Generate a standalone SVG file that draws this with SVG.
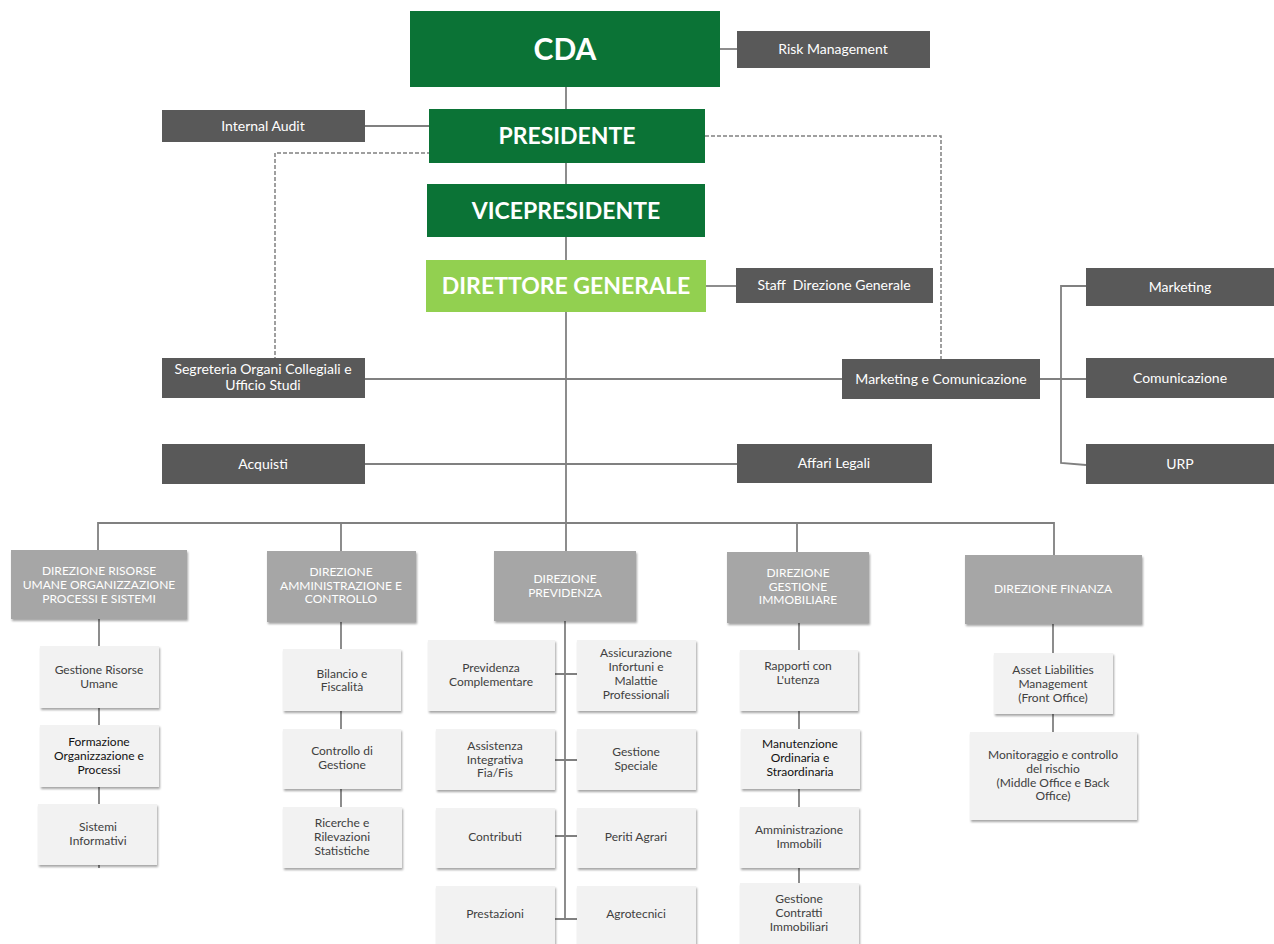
<svg xmlns="http://www.w3.org/2000/svg" width="1274" height="944" viewBox="0 0 1274 944">
<defs>
<filter id="sh" x="-10%" y="-10%" width="130%" height="140%">
<feDropShadow dx="1" dy="2" stdDeviation="1.2" flood-color="#000" flood-opacity="0.35"/>
</filter>
<style>
text{font-family:Lato,"Open Sans","Liberation Sans",sans-serif;text-anchor:middle}
.dg{fill:#0b7336}
.lg{fill:#92d050}
.gr{fill:#595959}
.dir{fill:#a6a6a6;filter:url(#sh)}
.sub{fill:#f2f2f2;filter:url(#sh)}
.tt{fill:#fff;font-weight:bold}
.tg{fill:#fff;font-size:14px}
.td{fill:#fff;font-size:12px}
.ts{fill:#404040;font-size:12px}
.tk{fill:#111;font-size:12px}
.ln{fill:none;stroke:#808080;stroke-width:1.8}
.dash{fill:none;stroke:#808080;stroke-width:1.5;stroke-dasharray:4 2}
</style>
</defs>
<rect width="1274" height="944" fill="#fff"/>
<g id="connectors">
<path class="ln" d="M720 49H737"/>
<path class="ln" d="M566 87V109"/>
<path class="ln" d="M365 126H429"/>
<path class="ln" d="M566 163V184"/>
<path class="ln" d="M566 237V260"/>
<path class="ln" d="M706 286H736"/>
<path class="ln" d="M566 312V551"/>
<path class="ln" d="M365 379H842"/>
<path class="ln" d="M365 464H737"/>
<path class="ln" d="M1040 379H1086"/>
<path class="ln" d="M1086 286H1061V463L1086 465"/>
<path class="ln" d="M98 551V523H1054V555"/>
<path class="ln" d="M341 523V551"/>
<path class="ln" d="M797 523V552"/>
<path class="ln" d="M99 619V868"/>
<path class="ln" d="M341 622V807"/>
<path class="ln" d="M565 621V920"/>
<path class="ln" d="M555 674H577M555 760H577M555 836H577M555 919H577"/>
<path class="ln" d="M799 623V883"/>
<path class="ln" d="M1053 624V732"/>
<path class="dash" d="M443 153H275V358"/>
<path class="dash" d="M705 136H941V359"/>
</g>
<g id="cda"><rect class="dg" x="410" y="11" width="310" height="76"/><text class="tt" x="565" y="60" font-size="30">CDA</text></g>
<g id="risk"><rect class="gr" x="737" y="31" width="193" height="37"/><text class="tg" x="833" y="54">Risk Management</text></g>
<g id="presidente"><rect class="dg" x="429" y="109" width="276" height="54"/><text class="tt" x="567" y="144" font-size="23">PRESIDENTE</text></g>
<g id="audit"><rect class="gr" x="162" y="110" width="203" height="32"/><text class="tg" x="263" y="131">Internal Audit</text></g>
<g id="vice"><rect class="dg" x="427" y="184" width="278" height="53"/><text class="tt" x="566" y="219" font-size="23">VICEPRESIDENTE</text></g>
<g id="dg"><rect class="lg" x="426" y="260" width="280" height="52"/><text class="tt" x="566" y="294" font-size="23">DIRETTORE GENERALE</text></g>
<g id="staff"><rect class="gr" x="736" y="268" width="197" height="35"/><text class="tg" x="834" y="290" xml:space="preserve">Staff  Direzione Generale</text></g>
<g id="segreteria"><rect class="gr" x="162" y="358" width="203" height="40"/><text class="tg" x="263" y="374">Segreteria Organi Collegiali e</text><text class="tg" x="263" y="390">Ufficio Studi</text></g>
<g id="mkcom"><rect class="gr" x="842" y="359" width="198" height="40"/><text class="tg" x="941" y="384">Marketing e Comunicazione</text></g>
<g id="marketing"><rect class="gr" x="1086" y="268" width="188" height="38"/><text class="tg" x="1180" y="292">Marketing</text></g>
<g id="comunicazione"><rect class="gr" x="1086" y="358" width="188" height="40"/><text class="tg" x="1180" y="383">Comunicazione</text></g>
<g id="urp"><rect class="gr" x="1086" y="444" width="188" height="40"/><text class="tg" x="1180" y="469">URP</text></g>
<g id="acquisti"><rect class="gr" x="162" y="444" width="203" height="40"/><text class="tg" x="263" y="469">Acquisti</text></g>
<g id="legali"><rect class="gr" x="737" y="444" width="195" height="39"/><text class="tg" x="834" y="468">Affari Legali</text></g>

<g id="dir-risorse"><rect class="dir" x="11" y="550" width="176" height="69"/><text class="td" x="99" y="575">DIREZIONE RISORSE</text><text class="td" x="99" y="589">UMANE ORGANIZZAZIONE</text><text class="td" x="99" y="603">PROCESSI E SISTEMI</text></g>
<g id="dir-amm"><rect class="dir" x="267" y="551" width="149" height="71"/><text class="td" x="341" y="576">DIREZIONE</text><text class="td" x="341" y="590">AMMINISTRAZIONE E</text><text class="td" x="341" y="603">CONTROLLO</text></g>
<g id="dir-prev"><rect class="dir" x="494" y="551" width="142" height="70"/><text class="td" x="565" y="583">DIREZIONE</text><text class="td" x="565" y="597">PREVIDENZA</text></g>
<g id="dir-imm"><rect class="dir" x="727" y="552" width="142" height="71"/><text class="td" x="798" y="577">DIREZIONE</text><text class="td" x="798" y="591">GESTIONE</text><text class="td" x="798" y="604">IMMOBILIARE</text></g>
<g id="dir-fin"><rect class="dir" x="965" y="555" width="177" height="69"/><text class="td" x="1053" y="593">DIREZIONE FINANZA</text></g>

<g id="gru"><rect class="sub" x="40" y="646" width="119" height="62"/><text class="ts" x="99" y="674">Gestione Risorse</text><text class="ts" x="99" y="688">Umane</text></g>
<g id="fop"><rect class="sub" x="40" y="725" width="119" height="62"/><text class="tk" x="99" y="746">Formazione</text><text class="tk" x="99" y="760">Organizzazione e</text><text class="tk" x="99" y="774">Processi</text></g>
<g id="si"><rect class="sub" x="38" y="804" width="119" height="61"/><text class="ts" x="98" y="831">Sistemi</text><text class="ts" x="98" y="845">Informativi</text></g>

<g id="bil"><rect class="sub" x="283" y="649" width="118" height="62"/><text class="ts" x="342" y="678">Bilancio e</text><text class="ts" x="342" y="691">Fiscalità</text></g>
<g id="cdg"><rect class="sub" x="283" y="729" width="118" height="60"/><text class="ts" x="342" y="755">Controllo di</text><text class="ts" x="342" y="769">Gestione</text></g>
<g id="ric"><rect class="sub" x="283" y="807" width="119" height="61"/><text class="ts" x="342" y="827">Ricerche e</text><text class="ts" x="342" y="841">Rilevazioni</text><text class="ts" x="342" y="855">Statistiche</text></g>

<g id="prevcomp"><rect class="sub" x="428" y="640" width="127" height="71"/><text class="ts" x="491" y="672">Previdenza</text><text class="ts" x="491" y="686">Complementare</text></g>
<g id="assic"><rect class="sub" x="577" y="640" width="119" height="71"/><text class="ts" x="636" y="657">Assicurazione</text><text class="ts" x="636" y="671">Infortuni e</text><text class="ts" x="636" y="685">Malattie</text><text class="ts" x="636" y="699">Professionali</text></g>
<g id="assist"><rect class="sub" x="436" y="729" width="119" height="61"/><text class="ts" x="495" y="750">Assistenza</text><text class="ts" x="495" y="764">Integrativa</text><text class="ts" x="495" y="777">Fia/Fis</text></g>
<g id="gspec"><rect class="sub" x="577" y="729" width="119" height="61"/><text class="ts" x="636" y="756">Gestione</text><text class="ts" x="636" y="770">Speciale</text></g>
<g id="contributi"><rect class="sub" x="436" y="808" width="119" height="60"/><text class="ts" x="495" y="841">Contributi</text></g>
<g id="periti"><rect class="sub" x="577" y="808" width="119" height="60"/><text class="ts" x="636" y="841">Periti Agrari</text></g>
<g id="prestazioni"><rect class="sub" x="436" y="886" width="119" height="62"/><text class="ts" x="495" y="918">Prestazioni</text></g>
<g id="agrotecnici"><rect class="sub" x="577" y="886" width="119" height="62"/><text class="ts" x="636" y="918">Agrotecnici</text></g>

<g id="rapporti"><rect class="sub" x="740" y="650" width="118" height="61"/><text class="ts" x="798" y="670">Rapporti con</text><text class="ts" x="798" y="684">L'utenza</text></g>
<g id="manut"><rect class="sub" x="741" y="729" width="119" height="60"/><text class="tk" x="800" y="748">Manutenzione</text><text class="tk" x="800" y="762">Ordinaria e</text><text class="tk" x="800" y="776">Straordinaria</text></g>
<g id="ammimm"><rect class="sub" x="740" y="807" width="119" height="61"/><text class="ts" x="799" y="834">Amministrazione</text><text class="ts" x="799" y="848">Immobili</text></g>
<g id="gci"><rect class="sub" x="740" y="883" width="119" height="64"/><text class="ts" x="799" y="903">Gestione</text><text class="ts" x="799" y="917">Contratti</text><text class="ts" x="799" y="931">Immobiliari</text></g>

<g id="alm"><rect class="sub" x="994" y="653" width="119" height="61"/><text class="ts" x="1053" y="674">Asset Liabilities</text><text class="ts" x="1053" y="688">Management</text><text class="ts" x="1053" y="702">(Front Office)</text></g>
<g id="monit"><rect class="sub" x="970" y="732" width="167" height="88"/><text class="ts" x="1053" y="759">Monitoraggio e controllo</text><text class="ts" x="1053" y="773">del rischio</text><text class="ts" x="1053" y="787">(Middle Office e Back</text><text class="ts" x="1053" y="800">Office)</text></g>
</svg>
